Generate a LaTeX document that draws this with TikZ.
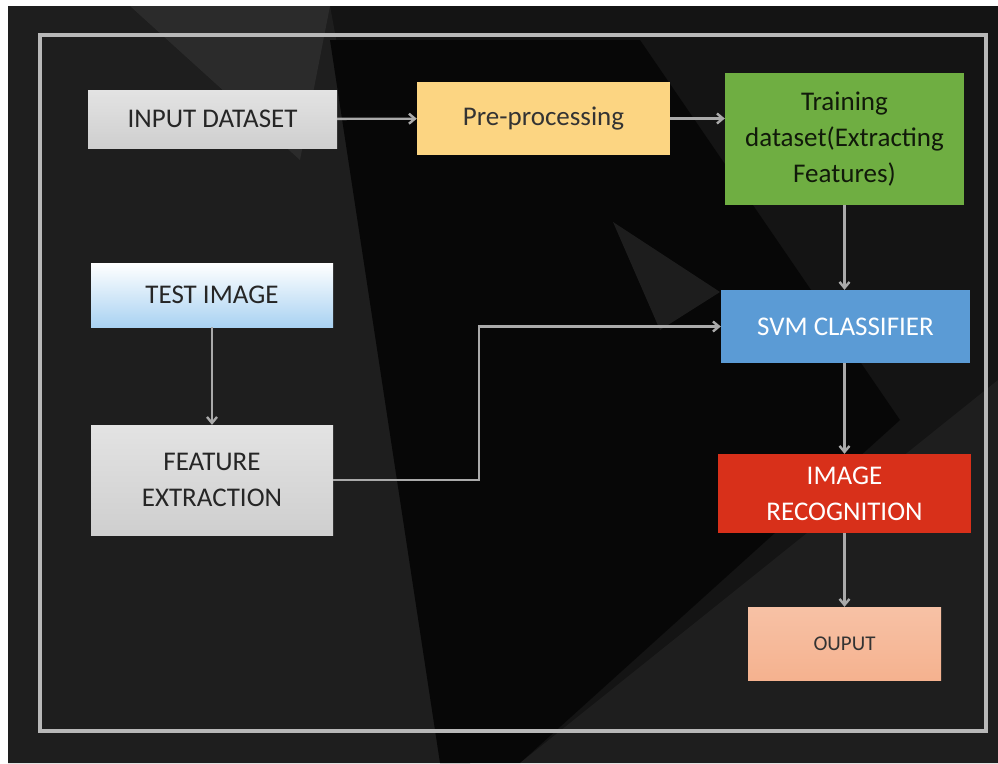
\documentclass[tikz,border=0pt]{standalone}
\usepackage{xcolor}
\usepackage{fontspec}
\setmainfont{Carlito}
\usepackage{tikz}
\usetikzlibrary{arrows.meta}
\usetikzlibrary{calc}

\definecolor{bgdark}{HTML}{141414}
\definecolor{bgblack}{HTML}{070707}
\definecolor{bgside}{HTML}{1E1E1E}
\definecolor{framegray}{HTML}{B8B8B8}
\definecolor{linkgray}{HTML}{AAAAAA}
\definecolor{preyellow}{HTML}{FCD582}
\definecolor{traingreen}{HTML}{6FAE42}
\definecolor{svmblue}{HTML}{5B9BD5}
\definecolor{recogred}{HTML}{D8301A}
\definecolor{outsalmon}{HTML}{F5B28F}
\definecolor{testblue}{HTML}{A9D2F2}

\tikzset{
    box/.style={rectangle, inner sep=0pt, align=center,
        font=\fontsize{27}{36}\selectfont},
    graybox/.style={box, shading=axis, top color=gray!22, middle color=white!97!gray,
        bottom color=gray!38, text=black!85},
    link/.style={draw=linkgray, line width=2.4pt,
        -{Straight Barb[length=6pt, width=10pt]}},
}

\begin{document}
\begin{tikzpicture}[x=1pt, y=-1pt]
    \useasboundingbox (0,0) rectangle (998,763);
    \fill[white] (0,0) rectangle (998,763);

    % backdrop
    \fill[bgdark] (8,6) rectangle (998,763);
    \fill[bgside] (8,6) -- (330,6) -- (470,763) -- (8,763) -- cycle;
    \fill[bgblack] (330,40) -- (640,40) -- (900,420) -- (520,763) -- (440,763) -- cycle;
    \fill[bgside] (520,763) -- (998,380) -- (998,763) -- cycle;
    \fill[white, opacity=0.09] (613,222) -- (720,292) -- (660,330) -- cycle;
    \fill[white, opacity=0.06] (130,6) -- (330,6) -- (300,160) -- cycle;

    % frame
    \draw[framegray, line width=3.5pt] (40,35) rectangle (986,731);

    % boxes
    \node[graybox, minimum width=249, minimum height=58] (input) at (212.5,119) {INPUT DATASET};
    \node[box, shading=axis, top color=white, bottom color=testblue, text=black!85,
        minimum width=242, minimum height=64] (test) at (212,295) {TEST IMAGE};
    \node[graybox, minimum width=242, minimum height=110] (feat) at (212,480) {FEATURE\\EXTRACTION};
    \node[box, fill=preyellow, text=black!80, minimum width=253, minimum height=73] (pre) at (543.5,118.5) {Pre-processing};
    \node[box, fill=traingreen, text=black!85!traingreen, minimum width=239, minimum height=132] (train) at (844.5,139)
        {Training\\dataset(Extracting\\Features)};
    \node[box, fill=svmblue, text=white, minimum width=249, minimum height=73] (svm) at (845.5,326.5) {SVM CLASSIFIER};
    \node[box, fill=recogred, text=white, minimum width=253, minimum height=79] (recog) at (844.5,493.5) {IMAGE\\RECOGNITION};
    \node[box, shading=axis, top color=outsalmon!80!white, bottom color=outsalmon, text=black!80,
        font=\fontsize{21}{26}\selectfont, minimum width=193, minimum height=73] (out) at (844.5,643.5) {OUPUT};

    % connectors
    \coordinate (bend) at (479,326.5);
    \draw[link] (input) -- (pre);
    \draw[link] (pre.east) -- (pre.east -| train.west);
    \draw[link] (train.south) -- (train.south |- svm.north);
    \draw[link] (test) -- (feat);
    \draw[link] (feat.east) -| (bend) -- (svm.west);
    \draw[link] (svm.south -| recog.north) -- (recog.north);
    \draw[link] (recog) -- (out);
\end{tikzpicture}
\end{document}
